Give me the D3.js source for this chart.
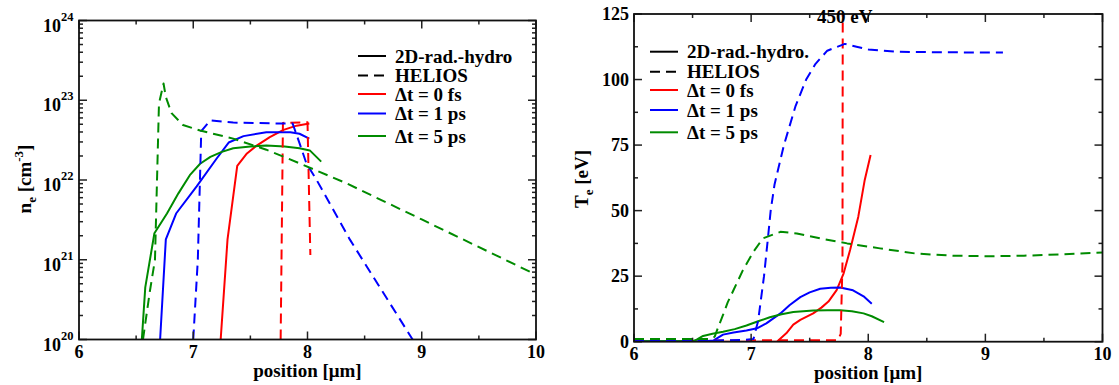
<!DOCTYPE html>
<html><head><meta charset="utf-8">
<script src="https://cdn.jsdelivr.net/npm/d3@7"></script>
<style>
body{margin:0;background:#fff;}
svg text{font-family:"Liberation Serif","Times New Roman",serif;font-weight:bold;fill:#000;}
</style></head><body><svg id="c" width="1119" height="385"></svg>
<script>
// ---------- tick labels / categories ----------
const xTicks = [6, 7, 8, 9, 10];
const neExponents = [20, 21, 22, 23, 24];
const teTicks = [0, 25, 50, 75, 100, 125];
const legendLeft = ["2D-rad.-hydro", "HELIOS", "Δt = 0 fs", "Δt = 1 ps", "Δt = 5 ps"];
const legendRight = ["2D-rad.-hydro.", "HELIOS", "Δt = 0 fs", "Δt = 1 ps", "Δt = 5 ps"];
const seriesColors = ["#ff0000", "#0000ff", "#008b00"];
const peakNote = "450 eV";

// ---------- left panel: electron density n_e [cm^-3] ----------
const ne2d0fsX = [7.24, 7.30, 7.385, 7.47, 7.555, 7.67, 7.79, 7.905, 8.016];
const ne2d0fsY = [1e20, 1.8e21, 1.5e22, 2.15e22, 2.7e22, 3.45e22, 4.25e22, 4.8e22, 5.1e22];
const ne2d1psX = [6.71, 6.76, 6.85, 7.03, 7.205, 7.31, 7.44, 7.64, 7.85, 7.93, 8.016];
const ne2d1psY = [1e20, 1.8e21, 3.8e21, 8.3e21, 1.86e22, 2.95e22, 3.55e22, 3.98e22, 3.98e22, 3.8e22, 3.3e22];
const ne2d5psX = [6.55, 6.58, 6.66, 6.77, 6.87, 6.97, 7.06, 7.15, 7.25, 7.35, 7.5, 7.64, 7.8, 7.93, 8.02, 8.12];
const ne2d5psY = [1e20, 4.5e20, 2.15e21, 3.8e21, 6.8e21, 1.15e22, 1.6e22, 1.95e22, 2.25e22, 2.5e22, 2.63e22, 2.7e22, 2.63e22, 2.5e22, 2.35e22, 1.7e22];
const neHel0fsX = [7.765, 7.785, 8.0, 8.025];
const neHel0fsY = [1e20, 5.2e22, 5.3e22, 1.15e21];
const neHel1psX = [7.0, 7.04, 7.07, 7.15, 7.35, 7.79, 7.87, 7.93, 7.99, 8.08, 8.37, 8.92];
const neHel1psY = [1e20, 1e21, 4.1e22, 5.6e22, 5.25e22, 5.1e22, 5.1e22, 2.9e22, 1.62e22, 1e22, 1.8e21, 1e20];
const neHel5psX = [6.56, 6.62, 6.665, 6.70, 6.74, 6.76, 6.81, 6.91, 7.06, 7.35, 7.64, 7.93, 8.34, 9.0, 10.0];
const neHel5psY = [1e20, 4e20, 1e21, 9.1e22, 1.62e23, 1.1e23, 6.9e22, 4.9e22, 4.17e22, 3.3e22, 2.4e22, 1.62e22, 9.1e21, 3.2e21, 6.5e20];

// ---------- right panel: electron temperature T_e [eV] ----------
const te2d0fsX = [6.0, 7.22, 7.30, 7.36, 7.42, 7.53, 7.6, 7.66, 7.73, 7.79, 7.845, 7.915, 7.97, 8.02];
const te2d0fsY = [0, 0, 3.2, 6.5, 8.3, 10.8, 13, 15.3, 19.7, 26.1, 35, 47.7, 61.7, 71.2];
const te2d1psX = [6.0, 6.6, 6.68, 6.76, 6.85, 6.96, 7.05, 7.13, 7.25, 7.33, 7.42, 7.5, 7.59, 7.68, 7.76, 7.87, 7.96, 8.03];
const te2d1psY = [0.2, 0.2, 0.5, 2.7, 3.5, 4.3, 5.1, 7.0, 10.8, 14, 17, 18.8, 20.2, 20.6, 20.7, 19.6, 17.3, 14.5];
const te2d5psX = [6.0, 6.5, 6.535, 6.59, 6.67, 6.76, 6.86, 6.96, 7.06, 7.16, 7.26, 7.36, 7.53, 7.65, 7.76, 7.86, 7.96, 8.03, 8.135];
const te2d5psY = [0.2, 0.2, 0.8, 2.2, 3.0, 3.8, 4.8, 6.2, 7.8, 9.3, 10.5, 11.3, 11.9, 12.0, 12.0, 11.6, 10.8, 9.7, 7.5];
const teHel0fsX = [6.0, 7.74, 7.765, 7.78, 7.79];
const teHel0fsY = [0.4, 0.6, 3, 30, 450];
const teHel1psX = [6.0, 6.7, 6.95, 7.02, 7.06, 7.11, 7.14, 7.167, 7.2, 7.28, 7.38, 7.47, 7.55, 7.65, 7.8, 7.9, 8.0, 8.24, 8.6, 9.15];
const teHel1psY = [0.5, 0.5, 0.7, 1, 8, 25, 38, 50, 60, 75, 90, 100, 106, 111, 113.6, 112.5, 111.5, 110.6, 110.4, 110.3];
const teHel5psX = [6.0, 6.66, 6.69, 6.71, 6.76, 6.8, 6.85, 6.93, 7.02, 7.1, 7.25, 7.39, 7.59, 7.82, 8.1, 8.41, 8.72, 9.02, 9.33, 9.63, 10.0];
const teHel5psY = [1, 1, 2, 4.5, 10.2, 15, 19.7, 27.3, 34.3, 39.4, 41.9, 41.3, 39.4, 37.5, 35.6, 33.6, 32.8, 32.6, 32.8, 33.3, 34.0];

const svg = d3.select("#c");
const DASH = "10,6";

function zip(xs, ys) { return xs.map((x, i) => [x, ys[i]]); }

function panel(cfg) {
  const g = svg.append("g");
  const x = d3.scaleLinear().domain([6, 10]).range([cfg.x0, cfg.x1]);
  const y = cfg.y;
  const clipId = "clip" + cfg.id;
  svg.append("clipPath").attr("id", clipId).append("rect")
    .attr("x", cfg.x0).attr("y", cfg.y1).attr("width", cfg.x1 - cfg.x0).attr("height", cfg.y0 - cfg.y1);

  const plot = g.append("g").attr("clip-path", `url(#${clipId})`);
  const line = d3.line().x(d => x(d[0])).y(d => y(d[1]));
  cfg.series.forEach(s => {
    plot.append("path").datum(zip(s.xs, s.ys)).attr("d", line)
      .attr("fill", "none").attr("stroke", s.color).attr("stroke-width", 2)
      .attr("stroke-dasharray", s.dashed ? DASH : null).attr("stroke-linejoin", "round");
  });

  // axes (ticks inward on all four sides)
  const ax = g.append("g").attr("stroke", "#222").attr("fill", "none");
  const xMinor = d3.range(6, 10.001, 0.5);
  xMinor.forEach(v => {
    const major = Math.abs(v - Math.round(v)) < 1e-6;
    const L = major ? 8 : 4;
    ax.append("line").attr("x1", x(v)).attr("x2", x(v)).attr("y1", cfg.y0).attr("y2", cfg.y0 - L).attr("stroke-width", 1.5);
    ax.append("line").attr("x1", x(v)).attr("x2", x(v)).attr("y1", cfg.y1).attr("y2", cfg.y1 + L).attr("stroke-width", 1.5);
  });
  cfg.yTicks.forEach(t => {
    const L = t.major ? 8 : 4;
    ax.append("line").attr("x1", cfg.x0).attr("x2", cfg.x0 + L).attr("y1", y(t.v)).attr("y2", y(t.v)).attr("stroke-width", 1.5);
    ax.append("line").attr("x1", cfg.x1).attr("x2", cfg.x1 - L).attr("y1", y(t.v)).attr("y2", y(t.v)).attr("stroke-width", 1.5);
  });
  ax.append("rect").attr("x", cfg.x0).attr("y", cfg.y1).attr("width", cfg.x1 - cfg.x0).attr("height", cfg.y0 - cfg.y1)
    .attr("stroke-width", 1.8).attr("stroke", "#111");

  xTicks.forEach(v => {
    g.append("text").attr("x", x(v)).attr("y", cfg.y0 + 18).attr("text-anchor", "middle")
      .attr("font-size", 18).text(v);
  });
  g.append("text").attr("x", (cfg.x0 + cfg.x1) / 2).attr("y", cfg.xTitleY).attr("text-anchor", "middle")
    .attr("font-size", 19).text("position [μm]");

  // legend
  cfg.legend.forEach((lab, i) => {
    const ly = cfg.legRows[i];
    const col = i < 2 ? "#000" : seriesColors[i - 2];
    g.append("line").attr("x1", cfg.legX0).attr("x2", cfg.legX0 + 28).attr("y1", ly).attr("y2", ly)
      .attr("stroke", col).attr("stroke-width", 2).attr("stroke-dasharray", i === 1 ? DASH : null);
    g.append("text").attr("x", cfg.legX0 + 37).attr("y", ly + 6.5).attr("font-size", 19).text(lab);
  });
  return { g, x, y };
}

// ---- left panel ----
const L = { x0: 79, x1: 536, y0: 339.5, y1: 20.5 };
const yLog = d3.scaleLog().domain([1e20, 1e24]).range([L.y0, L.y1]);
const logTicks = [];
neExponents.forEach((e, i) => {
  logTicks.push({ v: Math.pow(10, e), major: true });
  if (i < neExponents.length - 1) for (let m = 2; m <= 9; m++) logTicks.push({ v: m * Math.pow(10, e), major: false });
});
const left = panel({
  id: "L", ...L, y: yLog, yTicks: logTicks, xTitleY: 377,
  legend: legendLeft, legX0: 358, legRows: [56, 75.5, 94, 113.5, 136],
  series: [
    { xs: ne2d0fsX, ys: ne2d0fsY, color: seriesColors[0] },
    { xs: ne2d1psX, ys: ne2d1psY, color: seriesColors[1] },
    { xs: ne2d5psX, ys: ne2d5psY, color: seriesColors[2] },
    { xs: neHel0fsX, ys: neHel0fsY, color: seriesColors[0], dashed: true },
    { xs: neHel1psX, ys: neHel1psY, color: seriesColors[1], dashed: true },
    { xs: neHel5psX, ys: neHel5psY, color: seriesColors[2], dashed: true }
  ]
});
neExponents.forEach(e => {
  const t = left.g.append("text").attr("x", 73.5).attr("y", yLog(Math.pow(10, e)) + 11).attr("text-anchor", "end").attr("font-size", 18);
  t.append("tspan").text("10");
  t.append("tspan").attr("dy", -11).attr("font-size", 12.5).text(e);
});
{
  const t = left.g.append("text").attr("transform", "translate(31,179) rotate(-90)").attr("text-anchor", "middle").attr("font-size", 19);
  t.append("tspan").text("n");
  t.append("tspan").attr("dy", 5).attr("font-size", 13).text("e");
  t.append("tspan").attr("dy", -5).text(" [cm");
  t.append("tspan").attr("dy", -8).attr("font-size", 13).text("-3");
  t.append("tspan").attr("dy", 8).text("]");
}

// ---- right panel ----
const R = { x0: 634, x1: 1102.5, y0: 341.7, y1: 14 };
const yLin = d3.scaleLinear().domain([0, 125]).range([R.y0, R.y1]);
const linTicks = d3.range(0, 125.01, 12.5).map(v => ({ v, major: teTicks.includes(v) }));
const right = panel({
  id: "R", ...R, y: yLin, yTicks: linTicks, xTitleY: 379,
  legend: legendRight, legX0: 650, legRows: [51.7, 71.7, 90, 110, 132.3],
  series: [
    { xs: te2d0fsX, ys: te2d0fsY, color: seriesColors[0] },
    { xs: te2d1psX, ys: te2d1psY, color: seriesColors[1] },
    { xs: te2d5psX, ys: te2d5psY, color: seriesColors[2] },
    { xs: teHel0fsX, ys: teHel0fsY, color: seriesColors[0], dashed: true },
    { xs: teHel1psX, ys: teHel1psY, color: seriesColors[1], dashed: true },
    { xs: teHel5psX, ys: teHel5psY, color: seriesColors[2], dashed: true }
  ]
});
teTicks.forEach(v => {
  right.g.append("text").attr("x", 629).attr("y", yLin(v) + 6).attr("text-anchor", "end").attr("font-size", 18).text(v);
});
{
  const t = right.g.append("text").attr("transform", "translate(588,179) rotate(-90)").attr("text-anchor", "middle").attr("font-size", 19);
  t.append("tspan").text("T");
  t.append("tspan").attr("dy", 5).attr("font-size", 13).text("e");
  t.append("tspan").attr("dy", -5).text(" [eV]");
}
right.g.append("text").attr("x", right.x(7.80)).attr("y", 23).attr("text-anchor", "middle").attr("font-size", 19).text(peakNote);
</script></body></html>
